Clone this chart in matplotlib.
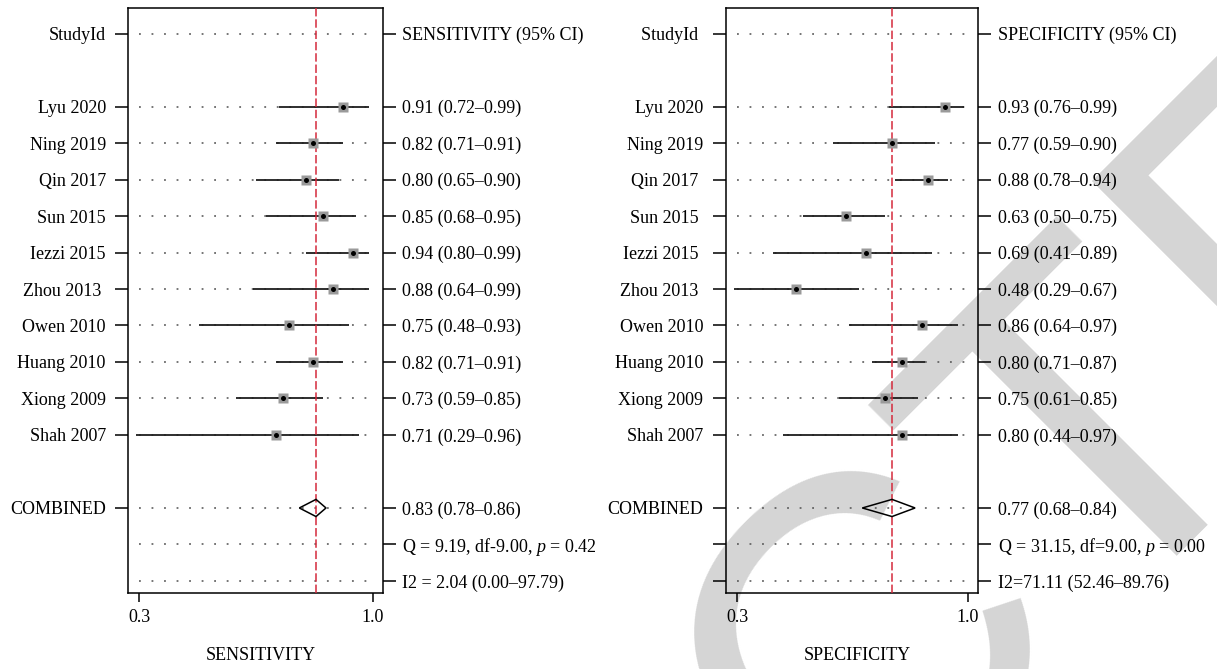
import numpy as np
import matplotlib
matplotlib.use("Agg")
import matplotlib.pyplot as plt
from matplotlib.patches import Polygon
from matplotlib.font_manager import FontProperties

plt.rcParams["font.family"] = ["Liberation Serif", "DejaVu Serif"]
plt.rcParams["mathtext.fontset"] = "custom"
plt.rcParams["mathtext.rm"] = "Liberation Serif"
plt.rcParams["mathtext.it"] = "Liberation Serif:italic"

# ---------------- data ----------------
studies_left = ["Lyu 2020", "Ning 2019", "Qin 2017", "Sun 2015", "Iezzi 2015",
                "Zhou 2013 ", "Owen 2010", "Huang 2010", "Xiong 2009", "Shah 2007"]
studies_right = ["Lyu 2020", "Ning 2019", "Qin 2017 ", "Sun 2015 ", "Iezzi 2015 ",
                 "Zhou 2013 ", "Owen 2010", "Huang 2010", "Xiong 2009", "Shah 2007"]

sens = [0.91, 0.82, 0.80, 0.85, 0.94, 0.88, 0.75, 0.82, 0.73, 0.71]
sens_lo = [0.72, 0.71, 0.65, 0.68, 0.80, 0.64, 0.48, 0.71, 0.59, 0.29]
sens_hi = [0.99, 0.91, 0.90, 0.95, 0.99, 0.99, 0.93, 0.91, 0.85, 0.96]
sens_comb = [0.83, 0.78, 0.86]
sens_q = "Q = 9.19, df-9.00, $p$ = 0.42"
sens_i2 = "I2 = 2.04 (0.00\u201397.79)"

spec = [0.93, 0.77, 0.88, 0.63, 0.69, 0.48, 0.86, 0.80, 0.75, 0.80]
spec_lo = [0.76, 0.59, 0.78, 0.50, 0.41, 0.29, 0.64, 0.71, 0.61, 0.44]
spec_hi = [0.99, 0.90, 0.94, 0.75, 0.89, 0.67, 0.97, 0.87, 0.85, 0.97]
spec_comb = [0.77, 0.68, 0.84]
spec_q = "Q = 31.15, df=9.00, $p$ = 0.00"
spec_i2 = "I2=71.11 (52.46\u201389.76)"

x_ticks = [0.3, 1.0]
x_tick_labels = ["0.3", "1.0"]
watermark = "RETRACTED"

# row layout
study_rows = list(range(2, 12))
header_row = 0
comb_row = 13
q_row = 14
i2_row = 15

FS = 13
W, H = 1217, 669
fig = plt.figure(figsize=(W / 100, H / 100), dpi=100)
fig.patch.set_facecolor("white")

# ---- watermark (real text, rotated) ----
wm_size = 340
wm_fp = FontProperties(family="Liberation Sans", size=wm_size)
renderer = fig.canvas.get_renderer()
w_pre = renderer.get_text_width_height_descent(watermark[:6], wm_fp, ismath=False)[0]
w_T = renderer.get_text_width_height_descent("T", wm_fp, ismath=False)[0]
L = w_pre + w_T / 2.0
ang = np.deg2rad(45)
tx, ty = 1182, H - 512          # baseline point under the centre of the 2nd "T"
sx, sy = tx - L * np.cos(ang), ty - L * np.sin(ang)
fig.text(sx / W, sy / H, watermark, fontproperties=wm_fp, color="#d5d5d5",
         rotation=45, rotation_mode="anchor", ha="left", va="baseline", zorder=-5)


def fmt(e, l, h):
    return f"{e:.2f} ({l:.2f}\u2013{h:.2f})"


header_r = {"SENSITIVITY": "SENSITIVITY (95% CI)", "SPECIFICITY": "SPECIFICITY (95% CI)"}


def panel(rect, studies, est, lo, hi, comb, qtxt, i2txt, header, xlabel,
          left_extra_ticks, left_pad, right_pad):
    ax = fig.add_axes(rect)
    ax.set_facecolor("none")
    ax.set_xlim(0.266, 1.031)
    ax.set_ylim(15.33, -0.70)

    grid_rows = [header_row] + study_rows + [comb_row, q_row, i2_row]
    ax.hlines(grid_rows, 0.3, 1.0, colors="#505050", lw=1.1,
              linestyles=(0, (1.2, 7.0)), zorder=1)
    ax.hlines(study_rows, lo, hi, colors="#1e1e1e", lw=1.3, zorder=2)
    ax.axvline(comb[0], color="#d42a3c", lw=1.1, ls=(0, (5.5, 1.9)), zorder=3)
    ax.plot(est, study_rows, "s", ms=7.2, mfc="#9a9a9a", mec="none", zorder=4)
    ax.plot(est, study_rows, "o", ms=3.6, mfc="black", mec="none", zorder=5)
    h = 0.235
    dia = Polygon([(comb[1], comb_row), (comb[0], comb_row - h),
                   (comb[2], comb_row), (comb[0], comb_row + h)],
                  closed=True, fill=False, ec="black", lw=1.1, zorder=5)
    ax.add_patch(dia)

    left_pos = [header_row] + study_rows + [comb_row]
    left_lab = [header] + studies + ["COMBINED"]
    if left_extra_ticks:
        left_pos += [q_row, i2_row]
        left_lab += ["", ""]
    ax.set_yticks(left_pos)
    ax.set_yticklabels(left_lab, fontsize=FS)
    ax.tick_params(axis="y", direction="out", length=9.5, width=1.1, pad=left_pad)

    ax.set_xticks(x_ticks)
    ax.set_xticklabels(x_tick_labels, fontsize=FS)
    ax.tick_params(axis="x", direction="out", length=6.5, width=1.1, pad=5)
    ax.set_xlabel(xlabel, fontsize=FS, labelpad=15)
    ax.xaxis.label.set_x(0.52)
    for s in ax.spines.values():
        s.set_linewidth(1.1)

    axr = ax.twinx()
    axr.set_ylim(15.33, -0.70)
    right_pos = [header_row] + study_rows + [comb_row, q_row, i2_row]
    right_lab = [header_r[xlabel]] + [fmt(e, l, hh) for e, l, hh in zip(est, lo, hi)] + \
                [fmt(*comb), qtxt, i2txt]
    axr.set_yticks(right_pos)
    axr.set_yticklabels(right_lab, fontsize=FS)
    axr.tick_params(axis="y", direction="out", length=9.5, width=1.1, pad=right_pad)
    for s in axr.spines.values():
        s.set_visible(False)
    return ax


bottom = 1 - 593 / H
height = 585 / H
panel([128 / W, bottom, 255 / W, height], studies_left, sens, sens_lo, sens_hi,
      sens_comb, sens_q, sens_i2, "StudyId", "SENSITIVITY", False, 6.5, 4)
panel([726 / W, bottom, 252 / W, height], studies_right, spec, spec_lo, spec_hi,
      spec_comb, spec_q, spec_i2, "StudyId ", "SPECIFICITY", True, 7, 5)

fig.savefig("out.png", dpi=100, facecolor="white")
